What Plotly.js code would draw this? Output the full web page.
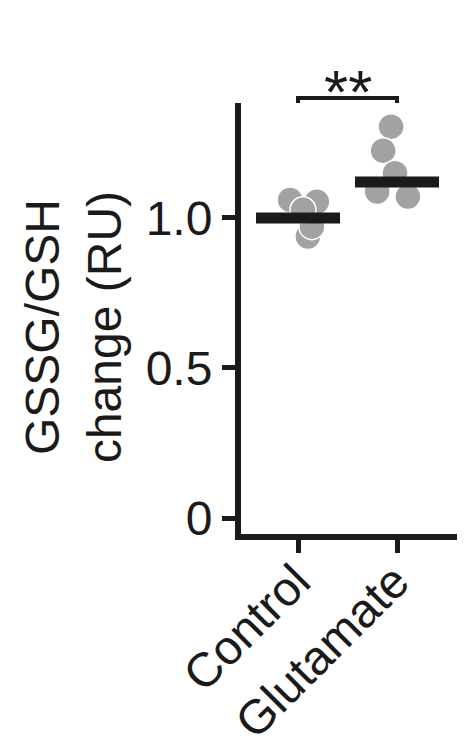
<!DOCTYPE html>
<html>
<head>
<meta charset="utf-8">
<script src="https://cdn.plot.ly/plotly-3.0.1.min.js"></script>
<style>
  html, body { margin: 0; padding: 0; background: #fff; }
  #chart { width: 472px; height: 752px; }
</style>
</head>
<body>
<div id="chart"></div>
<script>
// GSSG/GSH change, dot plot with mean bars ------------------------------------
const groups = ['Control', 'Glutamate'];
const controlVals = [0.938, 0.971, 1.060, 1.054, 1.027];
const controlJitter = [0.10, 0.14, -0.08, 0.19, 0.05];
const glutVals = [1.304, 1.224, 1.088, 1.071, 1.149];
const glutJitter = [-0.06, -0.14, -0.20, 0.11, -0.02];
const means = [1.0, 1.12];
const yTicks = [0, 0.5, 1.0];
const yTickText = ['0', '0.5', '1.0'];
const sigLabel = '**';

const ink = '#1a1a1a';
const dotGrey = '#a2a2a2';
const font = 'Liberation Sans, Arial, Helvetica, sans-serif';

const dots = (vals, jit, gi) => ({
    type: 'scatter', mode: 'markers',
    x: vals.map((v, i) => gi + jit[i]), y: vals,
    marker: { color: dotGrey, size: 26, line: { color: '#fff', width: 1.5 } },
    cliponaxis: false, hoverinfo: 'y', showlegend: false,
});

const meanBars = {
    type: 'scatter', mode: 'markers',
    x: groups.map((g, i) => i), y: means,
    marker: { symbol: 'line-ew', size: 60, color: ink, line: { color: ink, width: 11 } },
    cliponaxis: false, hoverinfo: 'y', showlegend: false,
};

const layout = {
    width: 472, height: 752,
    paper_bgcolor: '#fff', plot_bgcolor: '#fff',
    font: { family: font, color: ink, size: 48 },
    margin: { l: 241, r: 15, t: 103, b: 218 },
    showlegend: false,
    xaxis: {
        range: [-0.576, 1.606], zeroline: false, showgrid: false,
        showline: true, linecolor: ink, linewidth: 6,
        ticks: 'outside', ticklen: 13, tickwidth: 5, tickcolor: ink,
        tickvals: groups.map((g, i) => i), ticktext: groups, tickangle: -45,
        ticklabelstandoff: -19, ticklabelshift: -2,
        tickfont: { size: 48, color: ink },
    },
    yaxis: {
        range: [-0.0533, 1.383], zeroline: false, showgrid: false,
        showline: true, linecolor: ink, linewidth: 6,
        ticks: 'outside', ticklen: 13, tickwidth: 5, tickcolor: ink,
        tickvals: yTicks, ticktext: yTickText,
        tickfont: { size: 48, color: ink },
    },
    shapes: [{
        type: 'path', xref: 'x', yref: 'paper',
        path: 'M0,1.0 L0,1.0116 L1,1.0116 L1,1.0',
        line: { color: ink, width: 4 },
    }],
    annotations: [
        { text: sigLabel, xref: 'x', yref: 'paper', x: 0.5, y: 1.027,
          xanchor: 'center', yanchor: 'middle', showarrow: false,
          font: { size: 62, color: ink } },
        { text: 'GSSG/GSH<br>change (RU)', xref: 'paper', yref: 'paper',
          x: -0.778, y: 0.48, xanchor: 'center', yanchor: 'middle',
          textangle: -90, showarrow: false, font: { size: 48, color: ink } },
    ],
};

Plotly.newPlot('chart', [
    dots(controlVals, controlJitter, 0),
    dots(glutVals, glutJitter, 1),
    meanBars,
], layout, { displayModeBar: false, staticPlot: true });
</script>
</body>
</html>
